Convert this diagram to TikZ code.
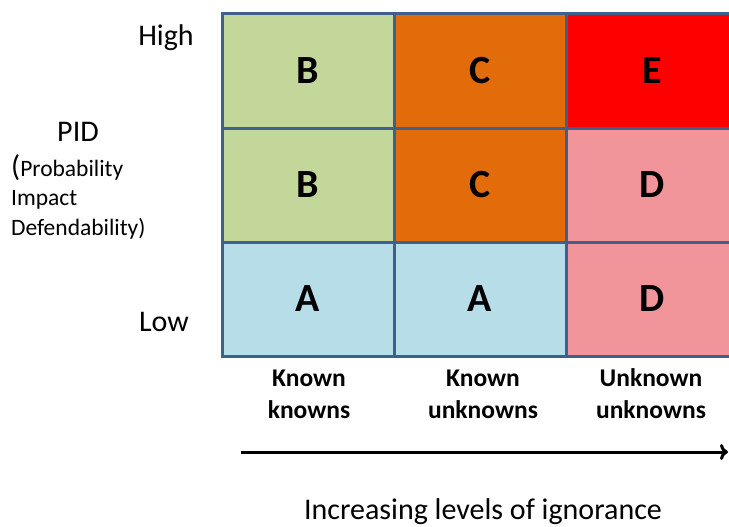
\documentclass[tikz,border=0pt]{standalone}
\usepackage{fontspec}
\setmainfont{Carlito}
\usetikzlibrary{arrows.meta}

\definecolor{gridblue}{HTML}{3F5F8C}
\definecolor{cellgreen}{HTML}{C4D79B}
\definecolor{cellorange}{HTML}{E36C0A}
\definecolor{cellred}{HTML}{FF0000}
\definecolor{cellpink}{HTML}{F2959B}
\definecolor{cellblue}{HTML}{B7DDE8}

\tikzset{
  cell/.style={draw=gridblue, line width=3pt, minimum width=172pt, minimum height=114pt,
    inner sep=0pt, font=\fontsize{40}{44}\selectfont\bfseries},
  axislabel/.style={font=\fontsize{30}{34}\selectfont},
  colhead/.style={align=center, font=\fontsize{25.5}{32}\selectfont\bfseries},
}

\begin{document}
\begin{tikzpicture}[x=1pt,y=-1pt]
    \useasboundingbox (0,0) rectangle (729,527);

    % risk grid
    \node[cell, fill=cellgreen]  (b1) at (308,71)  {B};
    \node[cell, fill=cellorange] (c1) at (480,71)  {C};
    \node[cell, fill=cellred]    (e)  at (652,71)  {E};
    \node[cell, fill=cellgreen]  (b2) at (308,185) {B};
    \node[cell, fill=cellorange] (c2) at (480,185) {C};
    \node[cell, fill=cellpink]   (d1) at (652,185) {D};
    \node[cell, fill=cellblue]   (a1) at (308,299) {A};
    \node[cell, fill=cellblue]   (a2) at (480,299) {A};
    \node[cell, fill=cellpink]   (d2) at (652,299) {D};

    % vertical axis
    \node[axislabel] (high) at (166,38) {High};
    \node[axislabel] (low) at (164,322) {Low};
    \node[axislabel] (pid) at (78,132) {PID};
    \node[anchor=north west, align=left, inner sep=0pt, font=\fontsize{23.5}{29.5}\selectfont] (pidtext) at (11,154)
        {{\fontsize{30}{29.5}\selectfont(}Probability\\Impact\\Defendability)};

    % horizontal axis
    \node[colhead] (kk) at (309,394) {Known\\knowns};
    \node[colhead] (ku) at (483,394) {Known\\unknowns};
    \node[colhead] (uu) at (651,394) {Unknown\\unknowns};

    \coordinate (from) at (241,452);
    \coordinate (to) at (728,452);
    \draw[line width=3pt, -{To[length=8pt,width=16pt,line width=3pt]}] (from) -- (to);
    \node[axislabel] (ignorance) at (483,512) {Increasing levels of ignorance};
\end{tikzpicture}
\end{document}
